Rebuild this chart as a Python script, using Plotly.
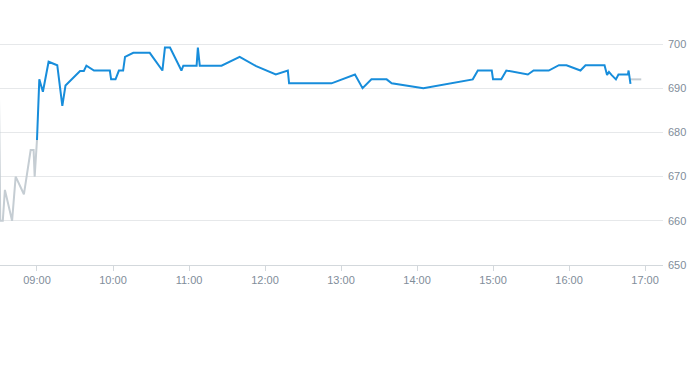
import plotly.graph_objects as go

DAY = "2024-01-02 "

pre_times = ["08:30", "08:31", "08:33", "08:34:40", "08:40:20", "08:43:10", "08:49:40",
             "08:51:50", "08:55", "08:57:20", "08:58:10", "09:00"]
pre_values = [688, 660, 660, 667, 660, 670, 666, 670, 676, 676, 670, 678.3]

day_times = ["09:00", "09:01:50", "09:04:40", "09:09:10", "09:16", "09:20", "09:22:30",
             "09:34", "09:37", "09:39", "09:45", "09:57:30", "09:58:30", "10:02", "10:04:40",
             "10:08", "10:09:30", "10:16", "10:29", "10:39", "10:41", "10:45", "10:54",
             "10:55:30", "11:06", "11:07", "11:08:30", "11:25:40", "11:40", "11:53",
             "12:08:30", "12:18", "12:19", "12:52:30", "13:11", "13:17", "13:24", "13:36",
             "13:40", "14:05", "14:44", "14:48", "14:59", "15:00", "15:06:30", "15:10:30",
             "15:27:30", "15:32", "15:44", "15:52", "15:58", "16:09", "16:13", "16:28",
             "16:30", "16:31:30", "16:33:30", "16:37", "16:39", "16:46:30", "16:47", "16:48:30"]
day_values = [678.3, 692, 689.2, 696, 695.2, 686, 690.6,
              693.9, 693.9, 695.1, 694, 694, 692, 692, 694,
              694, 697.1, 698, 698, 694, 699.2, 699.2, 694,
              695.1, 695.1, 699.2, 695.1, 695.1, 697.1, 695,
              693.1, 694, 691.1, 691.1, 693.1, 690, 692, 692,
              691.1, 690, 692, 694, 694, 692, 692, 694,
              693.1, 694, 694, 695.2, 695.2, 694, 695.2, 695.2,
              693, 693.7, 693, 692, 693.1, 693.1, 694, 691]

post_times = ["16:48", "16:57"]
post_values = [692, 692]

tick_times = ["09:00", "10:00", "11:00", "12:00", "13:00", "14:00", "15:00", "16:00", "17:00"]
y_ticks = [650, 660, 670, 680, 690, 700]

GREY = "#c5cdd3"
BLUE = "#178ddb"
TXT = "#7f8d9a"

fig = go.Figure()
fig.add_trace(go.Scatter(x=[DAY + t for t in pre_times], y=pre_values, mode="lines",
                         line=dict(color=GREY, width=2), hoverinfo="skip"))
fig.add_trace(go.Scatter(x=[DAY + t for t in post_times], y=post_values, mode="lines",
                         line=dict(color=GREY, width=2), hoverinfo="skip"))
fig.add_trace(go.Scatter(x=[DAY + t for t in day_times], y=day_values, mode="lines",
                         line=dict(color=BLUE, width=2), hoverinfo="skip"))

fig.update_layout(
    width=693, height=365,
    margin=dict(l=0, r=30, t=43, b=100),
    paper_bgcolor="white", plot_bgcolor="white",
    showlegend=False,
    font=dict(family="Liberation Sans, Arial, sans-serif", size=11, color=TXT),
    xaxis=dict(
        type="date",
        range=[DAY + "08:30:48", DAY + "17:14:10"],
        tickvals=[DAY + t for t in tick_times],
        ticktext=tick_times,
        showgrid=False, zeroline=False,
        showline=True, linecolor="#d3d8dc", linewidth=1,
        ticks="outside", ticklen=5, tickcolor="#d3d8dc",
        tickfont=dict(color=TXT, size=11),
    ),
    yaxis=dict(
        range=[650, 700.23],
        side="right",
        tickvals=y_ticks,
        showgrid=True, gridcolor="#e6e8ea", gridwidth=1,
        zeroline=False, showline=False,
        ticks="", ticklabelstandoff=4,
        tickfont=dict(color=TXT, size=11),
    ),
)

fig.write_html("out.html")
